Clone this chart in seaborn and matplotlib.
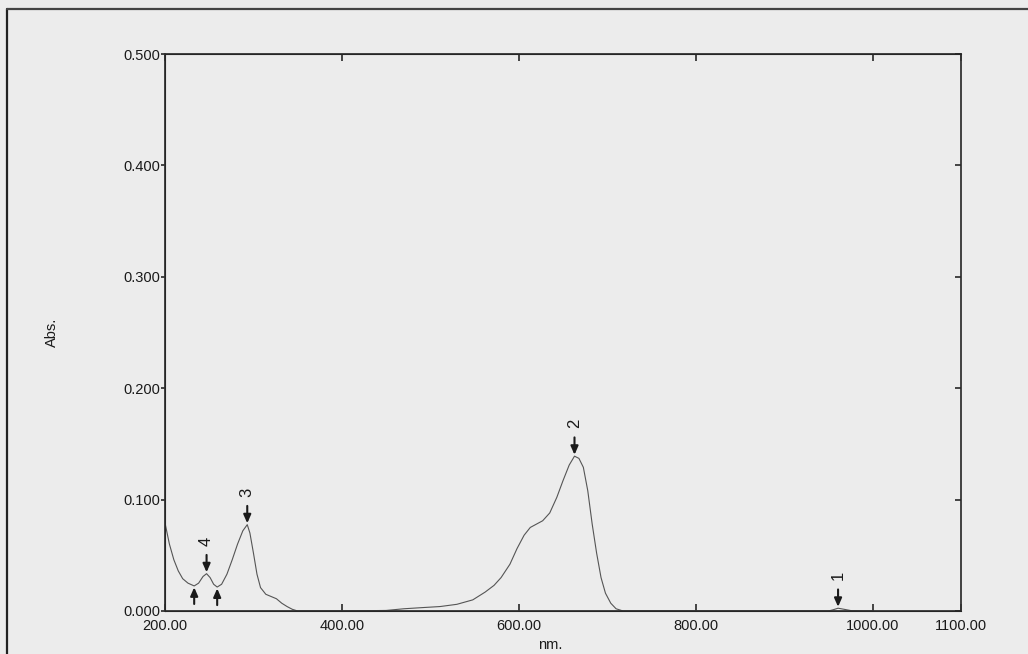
import numpy as np
import pandas as pd
import matplotlib
matplotlib.use("Agg")
import matplotlib.pyplot as plt
from matplotlib.lines import Line2D
import seaborn as sns

# spectrum (nm, Abs.)
wavelength = [200, 205, 210, 215, 220, 226, 233, 238, 243, 247, 251, 255, 259,
              264, 270, 276, 282, 288, 293, 296, 300, 304, 308, 314, 320, 326,
              332, 338, 344, 350, 400, 450, 470, 490, 511, 530, 548, 562, 572,
              580, 590, 598, 606, 613, 620, 627, 635, 643, 650, 657, 663, 668,
              673, 678, 683, 688, 693, 698, 704, 710, 718, 900, 950, 955, 961,
              968, 976, 990, 1000]
absorbance = [0.079, 0.060, 0.046, 0.036, 0.029, 0.025, 0.0225, 0.025, 0.031,
              0.0335, 0.030, 0.024, 0.0215, 0.024, 0.033, 0.046, 0.060, 0.072,
              0.0775, 0.070, 0.052, 0.033, 0.021, 0.015, 0.013, 0.011, 0.007,
              0.004, 0.0015, 0.0, 0.0, 0.0005, 0.002, 0.003, 0.004, 0.006,
              0.010, 0.017, 0.023, 0.030, 0.042, 0.056, 0.068, 0.075, 0.078,
              0.081, 0.088, 0.102, 0.117, 0.131, 0.139, 0.137, 0.129, 0.108,
              0.078, 0.052, 0.030, 0.016, 0.007, 0.002, 0.0, 0.0, 0.0, 0.001,
              0.0025, 0.0015, 0.0003, 0.0, 0.0]

# picked peaks and valleys
peak_nm = [961, 663, 293, 247]
peak_abs = [0.0025, 0.139, 0.0775, 0.0335]
peak_labels = ["1", "2", "3", "4"]
valley_nm = [233, 259]
valley_abs = [0.0225, 0.0215]

x_ticks = [200, 400, 600, 800, 1000, 1100]
y_ticks = [0.0, 0.1, 0.2, 0.3, 0.4, 0.5]

df = pd.DataFrame({"nm.": wavelength, "Abs.": absorbance})

sns.set_style("ticks")
plt.rcParams["font.family"] = ["Liberation Sans", "DejaVu Sans"]
paper = "#ececec"
ink = "#1a1a1a"

fig = plt.figure(figsize=(10.28, 6.54), dpi=100, facecolor=paper)
ax = fig.add_axes([165 / 1028, 1 - 611 / 654, 796 / 1028, 557 / 654])
ax.set_facecolor(paper)

sns.lineplot(data=df, x="nm.", y="Abs.", ax=ax, color="#555555", linewidth=0.8)

ax.set_xlim(200, 1100)
ax.set_ylim(0, 0.5)
ax.set_xticks(x_ticks)
ax.set_xticklabels([f"{v:.2f}" for v in x_ticks], fontsize=10.5, color=ink)
ax.set_yticks(y_ticks)
ax.set_yticklabels([f"{v:.3f}" for v in y_ticks], fontsize=10.5, color=ink)
ax.tick_params(axis="x", direction="in", length=5, width=1.2, top=True, pad=6)
ax.tick_params(axis="y", direction="out", length=3, width=1.2, pad=0.5)
for s in ax.spines.values():
    s.set_linewidth(1.3)
    s.set_color("#333333")

# inward ticks on the right side
ax_r = ax.twinx()
ax_r.set_ylim(0, 0.5)
ax_r.set_yticks(y_ticks)
ax_r.tick_params(axis="y", direction="in", length=4, width=1.2, labelright=False)
ax_r.spines["right"].set_visible(False)

ax.set_xlabel("nm.", fontsize=10.5, color=ink)
ax.xaxis.set_label_coords(0.484, -0.048)
ax.set_ylabel("Abs.", fontsize=10.5, color=ink)
ax.yaxis.set_label_coords(-0.133, 0.5)

arrow = dict(arrowstyle="-|>,head_length=0.5,head_width=0.22", color=ink,
             lw=1.5, shrinkA=0, shrinkB=1)
for xv, yv, lab in zip(peak_nm, peak_abs, peak_labels):
    ax.annotate("", xy=(xv, yv), xytext=(0, 13.5), textcoords="offset points",
                arrowprops=arrow)
    ax.annotate(lab, xy=(xv, yv), xytext=(0, 23.5), textcoords="offset points",
                rotation=90, ha="center", va="center", fontsize=12,
                color=ink)
for xv, yv in zip(valley_nm, valley_abs):
    ax.annotate("", xy=(xv, yv), xytext=(0, -13), textcoords="offset points",
                arrowprops=arrow)

# scan frame edges
fig.add_artist(Line2D([6.5 / 1028, 6.5 / 1028], [0, 1 - 9 / 654],
                      transform=fig.transFigure, color="#222222", lw=1.6))
fig.add_artist(Line2D([6.5 / 1028, 1], [1 - 9 / 654, 1 - 9 / 654],
                      transform=fig.transFigure, color="#444444", lw=1.6))

fig.savefig("out.png", dpi=100, facecolor=paper)
